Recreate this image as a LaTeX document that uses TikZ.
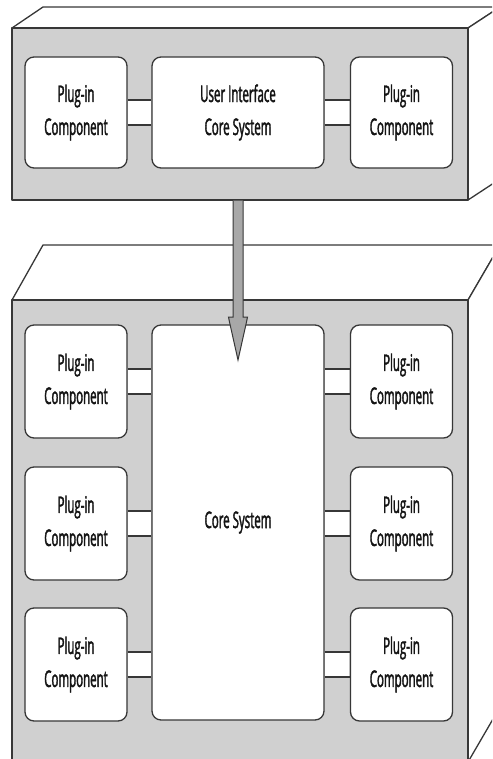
\documentclass[tikz,border=0pt]{standalone}
\usepackage{fontspec}
\setmainfont{Open Sans}[FakeStretch=0.5,FakeBold=1.6]
\definecolor{face}{RGB}{208,208,208}
\definecolor{edge}{RGB}{55,55,55}
\definecolor{arrowfill}{RGB}{168,168,168}
\definecolor{ink}{RGB}{20,20,20}
\begin{document}
\begin{tikzpicture}[x=1pt,y=-1pt,
  facefront/.style={fill=face,draw=edge,line width=1.3pt,line join=round},
  faceside/.style={fill=white,draw=edge,line width=1.3pt,line join=round},
  comp/.style={draw=edge,fill=white,line width=1.3pt,rounded corners=9pt,inner sep=0pt,
    align=center,font=\fontsize{23}{33}\selectfont,text=ink},
  plug/.style={comp,minimum width=102pt,minimum height=113pt},
  link/.style={draw=edge,line width=1.3pt},
  bigarrow/.style={draw=edge,fill=arrowfill,line width=1pt,line join=miter}]
\useasboundingbox (0,0) rectangle (492,759);
\clip (0,0) rectangle (492,759);
% upper block
\path[faceside] (12,28) -- (43,7) -- (500,7) -- (468,28) -- cycle;
\path[faceside] (468,28) -- (500,7) -- (500,179) -- (468,200) -- cycle;
\path[facefront] (12,28) rectangle (468,200);
% lower block
\path[faceside] (12,300) -- (43,245) -- (500,245) -- (468,300) -- cycle;
\path[faceside] (468,300) -- (500,245) -- (500,707) -- (468,762) -- cycle;
\path[facefront] (12,300) rectangle (468,762);
% upper components
\node[plug,minimum height=111pt] (tl) at (76,112.5) {Plug-in\\Component};
\node[comp,minimum width=172pt,minimum height=111pt] (ui) at (238,112.5) {User Interface\\Core System};
\node[plug,minimum height=111pt] (tr) at (401.5,112.5) {Plug-in\\Component};
% lower components
\node[comp,minimum width=172pt,minimum height=395pt] (core) at (238,522.5) {Core System};
\node[plug] (l1) at (76,381.5) {Plug-in\\Component};
\node[plug] (l2) at (76,523.5) {Plug-in\\Component};
\node[plug] (l3) at (76,664.5) {Plug-in\\Component};
\node[plug] (r1) at (401.5,381.5) {Plug-in\\Component};
\node[plug] (r2) at (401.5,523.5) {Plug-in\\Component};
\node[plug] (r3) at (401.5,664.5) {Plug-in\\Component};
% connectors
\foreach \a/\b in {tl/ui,ui/tr,l1/core,l2/core,l3/core}{
  \coordinate (u) at ([yshift=12.5pt]\a.east);
  \coordinate (d) at ([yshift=-12.5pt]\a.east);
  \coordinate (ue) at (u -| \b.west);
  \coordinate (de) at (d -| \b.west);
  \fill[white] ([xshift=0.65pt]d) rectangle ([xshift=-0.65pt]ue);
  \draw[link] (u) -- (ue);
  \draw[link] (d) -- (de);
}
\foreach \b in {r1,r2,r3}{
  \coordinate (u) at ([yshift=12.5pt]\b.west);
  \coordinate (d) at ([yshift=-12.5pt]\b.west);
  \coordinate (ue) at (u -| core.east);
  \coordinate (de) at (d -| core.east);
  \fill[white] ([xshift=0.65pt]de) rectangle ([xshift=-0.65pt]u);
  \draw[link] (ue) -- (u);
  \draw[link] (de) -- (d);
}
% arrow between blocks
\path[bigarrow] (233,200.7) -- (233,317) -- (228.5,317) -- (229.5,322) -- (238,360)
  -- (246.5,322) -- (247.5,317) -- (243,317) -- (243,200.7);
\end{tikzpicture}
\end{document}
